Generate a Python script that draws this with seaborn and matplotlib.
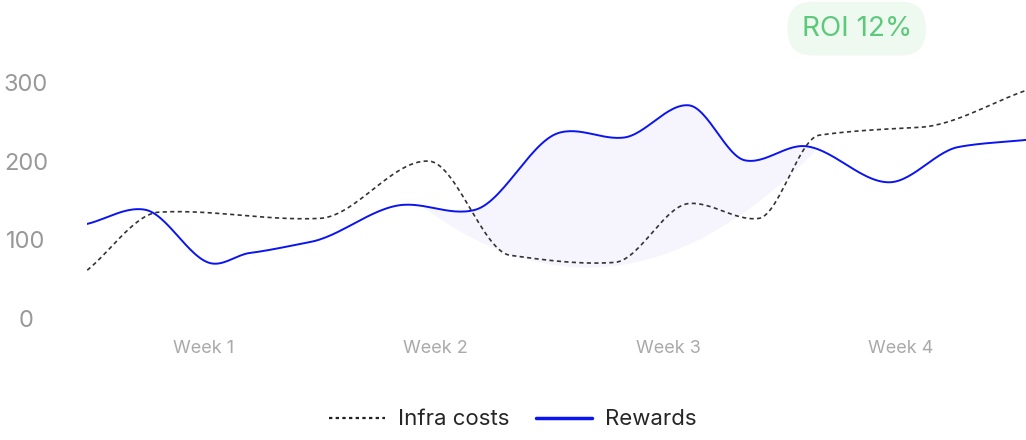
import numpy as np
import pandas as pd
import matplotlib
matplotlib.use("Agg")
import matplotlib.pyplot as plt
import seaborn as sns
from matplotlib.lines import Line2D

weeks = ["Week 1", "Week 2", "Week 3", "Week 4"]
reward_x = [0.5, 0.75, 1.03, 1.2, 1.46, 1.85, 2.17, 2.53, 2.81, 3.09, 3.33, 3.59, 3.95, 4.25, 4.54]
reward_y = [120, 138, 70, 83, 97, 144, 138, 236, 230, 271, 201, 219, 173, 218, 227]
cost_x = [0.5, 0.81, 1.5, 1.97, 2.32, 2.77, 3.09, 3.39, 3.65, 4.08, 4.54]
cost_y = [61, 135, 127, 200, 80, 71, 146, 127, 233, 243, 290]

def smooth(x, y, k=0.6, n=30):
    x = np.asarray(x, float); y = np.asarray(y, float)
    X = [x[0]]; Y = [y[0]]
    for i in range(len(x) - 1):
        x0, x1 = x[i], x[i + 1]
        h = x1 - x0
        s = (y[i + 1] - y[i]) / h
        m0 = s if i == 0 else (y[i + 1] - y[i - 1]) / (x[i + 1] - x[i - 1]) * k
        m1 = s if i == len(x) - 2 else (y[i + 2] - y[i]) / (x[i + 2] - x[i]) * k
        t = np.linspace(0, 1, n)[1:]
        h00 = 2*t**3 - 3*t**2 + 1; h10 = t**3 - 2*t**2 + t
        h01 = -2*t**3 + 3*t**2; h11 = t**3 - t**2
        X.extend(x0 + t*h)
        Y.extend(h00*y[i] + h10*h*m0 + h01*y[i+1] + h11*h*m1)
    return np.array(X), np.array(Y)

sns.set_theme(style="white")
plt.rcParams['font.family'] = ['Inter', 'DejaVu Sans']
fig = plt.figure(figsize=(10.26, 4.4), dpi=100)
ax = fig.add_axes([0.085, 0.277, 0.915, 0.571])

rx, ry = smooth(reward_x, reward_y, k=0.6)
cx, cy = smooth(cost_x, cost_y, k=0.25)

base = 65 + 170 * ((rx - 2.65) / 1.05) ** 2
mask = (base < ry) & (rx > 1.6) & (rx < 3.9)
ax.fill_between(rx, base, ry, where=mask, color="#ece9fb", alpha=0.45, lw=0)

sns.lineplot(x=cx, y=cy, ax=ax, color="#333333", lw=1.2, linestyle=(0, (2.5, 2)), sort=False)
sns.lineplot(x=rx, y=ry, ax=ax, color="#0a14f0", lw=1.4, sort=False)

ax.set_xlim(0.5, 4.54)
ax.set_ylim(0, 320)
ax.set_yticks([0, 100, 200, 300])
ax.set_xticks([1, 2, 3, 4])
ax.set_xticklabels(weeks, fontsize=13, color="#aaaaaa")
ax.tick_params(axis='y', labelsize=17, colors="#999999", pad=38)
ax.tick_params(axis='x', pad=10)
for lbl in ax.get_yticklabels():
    lbl.set_horizontalalignment('center')
for s in ax.spines.values():
    s.set_visible(False)
ax.grid(False)

fig.text(0.835, 0.935, "ROI 12%", fontsize=20, color="#5cc97b", ha="center", va="center",
         bbox=dict(boxstyle="round,pad=0.5,rounding_size=0.9", fc="#eef9f0", ec="none"))

handles = [Line2D([], [], color="#222222", lw=1.6, linestyle=(0, (1.5, 1.5))),
           Line2D([], [], color="#0a14f0", lw=2.5)]
fig.legend(handles, ["Infra costs", "Rewards"], loc="center", bbox_to_anchor=(0.5, 0.047),
           ncol=2, frameon=False, fontsize=16, handlelength=2.5, columnspacing=1.2,
           handletextpad=0.6)
fig.savefig("out.png", dpi=100)
